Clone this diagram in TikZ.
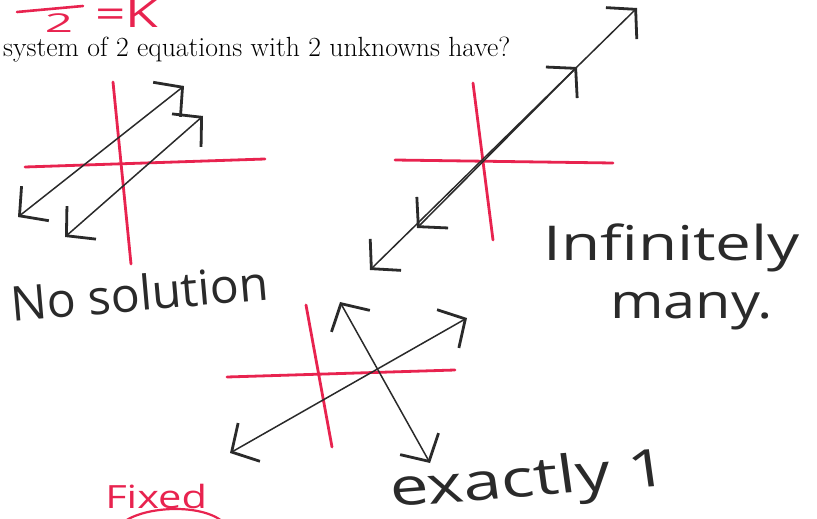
\documentclass[tikz,border=0pt]{standalone}
\usepackage{fontspec}
\newfontfamily\hand{Open Sans}
\definecolor{penred}{HTML}{E8234F}
\definecolor{inkgray}{HTML}{2A2A2A}
\usetikzlibrary{arrows.meta,calc,positioning}
\tikzset{
  handtip/.tip={Straight Barb[length=20pt,width=44pt,line width=2.8pt]},
  axis/.style={penred,line width=2.8pt,line cap=round},
  graphline/.style={inkgray,line width=1.5pt,handtip-handtip},
  scrawl/.style={inkgray,font=\hand\fontsize{48}{52}\selectfont,inner sep=0pt},
}

\begin{document}
\begin{tikzpicture}[x=1pt,y=-1pt]
  \useasboundingbox (0,0) rectangle (817,519);
  % red note at the top
  \coordinate (bar-l) at (17,12);
  \coordinate (bar-r) at (83,6);
  \draw[penred,line width=2.6pt,line cap=round] (bar-l) -- (bar-r);
  \node[penred,font=\hand\fontsize{26}{30}\selectfont,inner sep=0pt,xscale=1.9,anchor=base] (denom) at (59,33) {2};
  \node[penred,font=\hand\fontsize{38}{42}\selectfont,inner sep=0pt,xscale=1.4,anchor=base west] (eqk) at (95,28) {=K};
  % question
  \node[anchor=base west,font=\fontsize{27.7}{32}\selectfont,inner sep=0pt] (question) at (3,57)
    {system of 2 equations with 2 unknowns have?};

  % no solution
  \coordinate (ns-yt) at (113,82);
  \coordinate (ns-yb) at (131,264);
  \coordinate (ns-xl) at (25,167);
  \coordinate (ns-xr) at (265,159);
  \coordinate (ns-a1) at (18,217);
  \coordinate (ns-b1) at (184,86);
  \coordinate (ns-a2) at (65,237);
  \coordinate (ns-b2) at (203,116);
  \draw[axis] (ns-yt) -- (ns-yb);
  \draw[axis] (ns-xl) -- (ns-xr);
  \draw[graphline] (ns-a1) -- (ns-b1);
  \draw[graphline] (ns-a2) -- (ns-b2);
  \node[scrawl,anchor=base west,rotate=5] (nosol) at (12,322) {No solution};

  % infinitely many
  \coordinate (im-yt) at (473,83);
  \coordinate (im-yb) at (493,240);
  \coordinate (im-xl) at (395,160);
  \coordinate (im-xr) at (613,163);
  \coordinate (im-a1) at (370,270);
  \coordinate (im-b1) at (637,8);
  \coordinate (im-a2) at (417,228);
  \coordinate (im-b2) at (577,67);
  \draw[axis] (im-yt) -- (im-yb);
  \draw[axis] (im-xl) -- (im-xr);
  \draw[graphline] (im-a1) -- (im-b1);
  \draw[graphline] (im-a2) -- (im-b2);
  \node[scrawl,anchor=base west,xscale=1.33] (infin) at (543,260) {Infinitely};
  \node[scrawl,anchor=base west,xscale=1.2] (many) at (610,318) {many.};

  % exactly one
  \coordinate (ex-yt) at (306,305);
  \coordinate (ex-yb) at (332,447);
  \coordinate (ex-xl) at (227,377);
  \coordinate (ex-xr) at (455,370);
  \coordinate (ex-a1) at (230,453);
  \coordinate (ex-b1) at (467,318);
  \coordinate (ex-a2) at (340,302);
  \coordinate (ex-b2) at (430,463);
  \draw[axis] (ex-yt) -- (ex-yb);
  \draw[axis] (ex-xl) -- (ex-xr);
  \draw[graphline] (ex-a1) -- (ex-b1);
  \draw[graphline] (ex-a2) -- (ex-b2);
  \node[scrawl,font=\hand\fontsize{52}{56}\selectfont,anchor=base west,xscale=1.33,rotate=6] (exact) at (392,507) {exactly 1};

  % fixed
  \node[penred,font=\hand\fontsize{32}{34}\selectfont,inner sep=0pt,xscale=1.3,anchor=base west] (fixed) at (105,508) {Fixed};
  \coordinate (arc-l) at (125,521);
  \coordinate (arc-r) at (222,521);
  \draw[penred,line width=2.2pt,line cap=round] (arc-l) .. controls (148,506) and (200,504) .. (arc-r);
\end{tikzpicture}
\end{document}
